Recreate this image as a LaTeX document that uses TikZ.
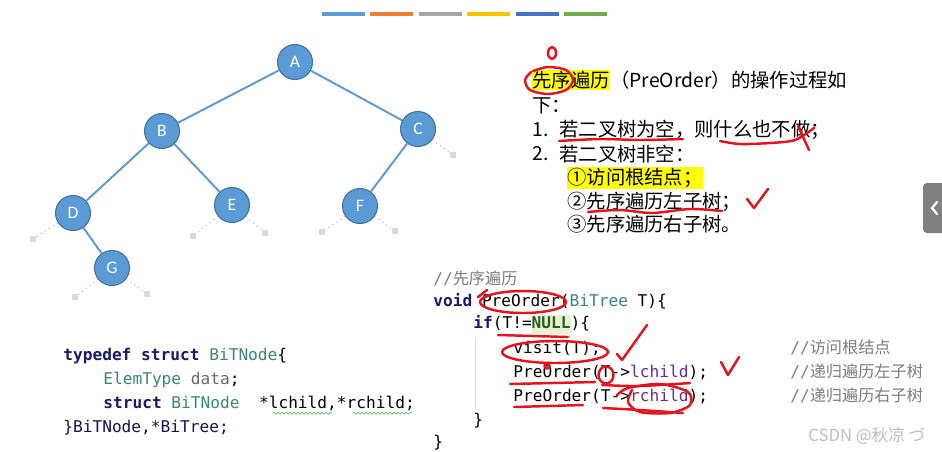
\documentclass[tikz,border=0pt]{standalone}
\usepackage{fontspec}
\usepackage{xcolor}
\usepackage{tikz}
\usetikzlibrary{positioning, decorations.pathmorphing}
\newfontfamily\cjk{Noto Sans CJK SC}
\newfontfamily\lettr{Carlito}
\setmonofont{DejaVu Sans Mono}
\definecolor{nodefill}{RGB}{91,155,213}
\definecolor{nodeline}{RGB}{65,113,156}
\definecolor{kw}{RGB}{25,25,110}
\definecolor{ty}{RGB}{55,135,125}
\definecolor{dat}{RGB}{105,105,105}
\definecolor{fld}{RGB}{105,45,150}
\definecolor{cmt}{RGB}{125,125,125}
\definecolor{nullc}{RGB}{35,95,35}
\definecolor{nullbg}{RGB}{234,240,208}
\definecolor{penred}{RGB}{228,20,30}
\definecolor{hly}{RGB}{255,255,0}
\definecolor{tabgray}{RGB}{128,128,128}
\definecolor{wmark}{RGB}{190,190,190}
\definecolor{barA}{RGB}{91,155,213}
\definecolor{barB}{RGB}{237,125,49}
\definecolor{barC}{RGB}{165,165,165}
\definecolor{barD}{RGB}{255,192,0}
\definecolor{barE}{RGB}{68,114,196}
\definecolor{barF}{RGB}{112,173,71}
\setlength{\fboxsep}{0pt}

\begin{document}
\begin{tikzpicture}[x=0.02cm, y=-0.02cm,
  tnode/.style={circle, draw=nodeline, line width=0.6pt, fill=nodefill, minimum size=0.7cm, inner sep=0pt, text=white, font=\lettr\fontsize{10}{12}\selectfont},
  tedge/.style={nodefill, line width=1.1pt},
  nil/.style={fill=gray!30, minimum size=0.12cm, inner sep=0pt},
  stub/.style={gray!45, dotted, line width=0.7pt},
  bar/.style={minimum width=0.86cm, minimum height=0.08cm, inner sep=0pt},
  txt/.style={anchor=west, inner sep=0pt, font=\cjk\fontsize{11}{13}\selectfont},
  hl/.style={txt, fill=hly, inner ysep=0.5pt},
  code/.style={anchor=west, inner sep=0pt, font=\ttfamily\fontsize{9.2}{11}\selectfont, text height=1.6ex, text depth=.45ex},
  cmnt/.style={code, text=cmt},
  pen/.style={penred, line width=1.4pt, line cap=round, line join=round}]
\useasboundingbox[fill=white] (0,0) rectangle (942,451);

% colour bars
\foreach \c [count=\i] in {barA,barB,barC,barD,barE,barF}
  \node[bar, fill=\c] (bar\i) at ({343.5+48.4*(\i-1)},14) {};

% binary tree
\node[tnode] (A) at (295,62) {A};
\node[tnode] (B) at (162,131) {B};
\node[tnode] (C) at (418,129) {C};
\node[tnode] (D) at (73,213) {D};
\node[tnode] (E) at (232,205) {E};
\node[tnode] (F) at (360,206) {F};
\node[tnode] (G) at (112,268) {G};
\draw[tedge] (A)--(B); \draw[tedge] (A)--(C); \draw[tedge] (B)--(D);
\draw[tedge] (B)--(E); \draw[tedge] (C)--(F); \draw[tedge] (D)--(G);

% empty children
\node[nil] (cR) at (453,155) {};
\node[nil] (dL) at (33,239) {};
\node[nil] (eL) at (193,236) {};
\node[nil] (eR) at (265,233) {};
\node[nil] (fL) at (322,232) {};
\node[nil] (fR) at (395,231) {};
\node[nil] (gL) at (75,297) {};
\node[nil] (gR) at (147,294) {};
\draw[stub] (C)--(cR); \draw[stub] (D)--(dL); \draw[stub] (E)--(eL); \draw[stub] (E)--(eR);
\draw[stub] (F)--(fL); \draw[stub] (F)--(fR); \draw[stub] (G)--(gL); \draw[stub] (G)--(gR);

% steps of the traversal
\node[hl] (hl1) at (532,80) {先序遍历};
\node[txt, right=0pt of hl1] (t1) {（PreOrder）的操作过程如};
\node[txt] (t2) at (532,106) {下：};
\node[txt] (n1) at (532,130) {1.};
\node[txt] (t3) at (559,130) {若二叉树为空，则什么也不做；};
\node[txt] (n2) at (532,154) {2.};
\node[txt] (t4) at (559,154) {若二叉树非空：};
\node[hl] (t5) at (567,178) {①访问根结点；};
\node[txt] (t6) at (567,202) {②先序遍历左子树；};
\node[txt] (t7) at (567,224) {③先序遍历右子树。};

% PreOrder code
\node[cmnt] (c0) at (433,280) {//{\cjk 先序遍历}};
\node[code] (c1) at (433,302) {\textbf{\color{kw}void} PreOrder(\textcolor{ty}{BiTree} T)\{};
\node[code] (c2) at (473,324) {\textbf{\color{kw}if}(T!=\colorbox{nullbg}{\strut\textbf{\color{nullc}NULL}})\{};
\node[code] (c3) at (513,349) {visit(T);};
\node[code] (c4) at (513,373) {PreOrder(T->\textcolor{fld}{lchild});};
\node[code] (c5) at (513,397) {PreOrder(T->\textcolor{fld}{rchild});};
\node[code] (c6) at (473,421) {\}};
\node[code] (c7) at (433,443) {\}};
\draw[gray!30] (475,337)--(475,408);
\node[cmnt] (m1) at (790,349) {//{\cjk 访问根结点}};
\node[cmnt] (m2) at (790,373) {//{\cjk 递归遍历左子树}};
\node[cmnt] (m3) at (790,397) {//{\cjk 递归遍历右子树}};

% node type
\node[code] (s1) at (63,356) {\textbf{\color{kw}typedef struct} \textcolor{ty}{BiTNode}\{};
\node[code] (s2) at (103,380) {\textcolor{ty}{ElemType} \textcolor{dat}{data};};
\node[code] (s3) at (103,404) {\textbf{\color{kw}struct} \textcolor{ty}{BiTNode}\ \ *lchild,*rchild;};
\node[code, text=kw!80!black] (s4) at (63,428) {\}BiTNode,*BiTree;};
\draw[green!55!black!60, decorate, decoration={snake, amplitude=0.02cm, segment length=0.08cm}] (273,413)--(332,413);
\draw[green!55!black!60, decorate, decoration={snake, amplitude=0.02cm, segment length=0.08cm}] (353,413)--(412,413);

% watermark and side tab
\node[txt, text=wmark, font=\cjk\fontsize{9.5}{11}\selectfont] (wm) at (808,436) {CSDN @秋凉 づ};
\fill[tabgray, rounded corners=0.08cm] (923,183) rectangle (950,233);
\draw[white, line width=1.3pt, line cap=round] (937,202)--(932,208)--(937,214);

% red pen marks
\draw[pen] (552,53) ellipse [x radius=0.08cm, y radius=0.12cm];
\draw[pen] plot[smooth] coordinates {(533,71) (548,67) (566,70) (573,80) (566,90) (548,94) (530,90) (525,80) (531,72)};
\draw[pen] plot[smooth] coordinates {(559,141) (600,139) (640,140) (683,139)};
\draw[pen] plot[smooth] coordinates {(720,141) (740,144) (770,143) (795,140) (814,128)};
\draw[pen] (798,126)--(809,150);
\draw[pen] plot[smooth] coordinates {(588,212) (620,210) (652,213) (690,209) (722,211)};
\draw[pen] (747,199)--(754,208)--(768,189);
\draw[pen] (523,302) ellipse [x radius=0.86cm, y radius=0.22cm];
\draw[pen] (478,297)--(487,290);
\draw[pen] (498,335)--(568,337);
\draw[pen] (555,352) ellipse [x radius=1.06cm, y radius=0.22cm];
\draw[pen] (547,366) circle [radius=0.05cm];
\draw[pen] (617,354)--(622,360)--(647,325);
\draw[pen] (510,384)--(595,382);
\draw[pen] (606,375) ellipse [x radius=0.15cm, y radius=0.17cm];
\draw[pen] plot[smooth] coordinates {(602,385) (640,386) (690,383)};
\draw[pen] (721,362)--(728,375)--(739,357);
\draw[pen] (514,407)--(583,405);
\draw[pen] plot[smooth] coordinates {(617,395) (628,388) (660,384) (688,392) (690,405) (670,413) (640,412) (628,402) (632,390)};
\draw[pen] plot[smooth] coordinates {(603,408) (640,410) (683,413)};
\end{tikzpicture}
\end{document}
